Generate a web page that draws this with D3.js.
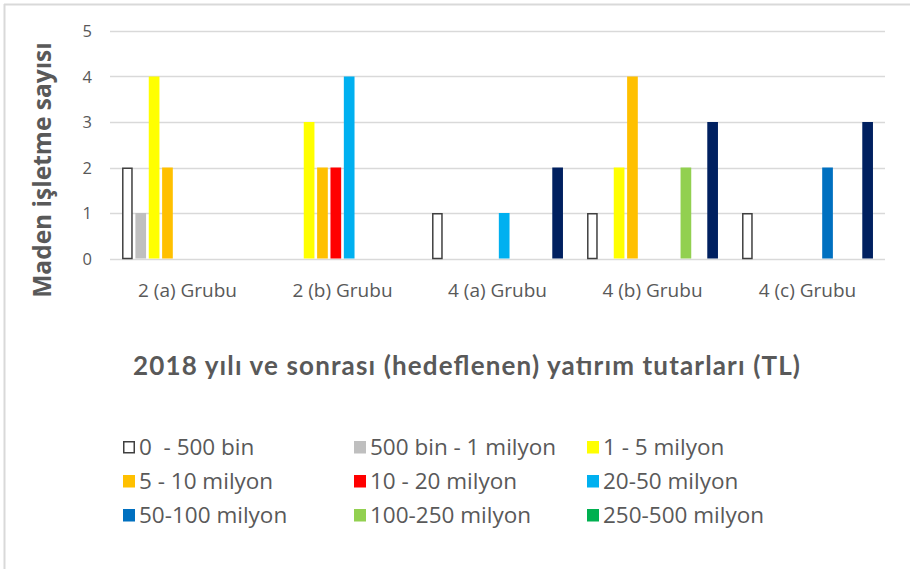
<!DOCTYPE html>
<html>
<head>
<meta charset="utf-8">
<script src="https://cdn.jsdelivr.net/npm/d3@7"></script>
<style>
  html, body { margin: 0; padding: 0; background: #fff; }
  svg { display: block; }
  .legtext { white-space: pre; }
</style>
</head>
<body>
<script>
// ---- DATA ----
const categories = ["2 (a) Grubu", "2 (b) Grubu", "4 (a) Grubu", "4 (b) Grubu", "4 (c) Grubu"];
const seriesNames = ["0  - 500 bin", "500 bin - 1 milyon", "1 - 5 milyon", "5 - 10 milyon", "10 - 20 milyon",
                     "20-50 milyon", "50-100 milyon", "100-250 milyon", "250-500 milyon", "500 milyon üzeri"];
const seriesColors = ["#ffffff", "#bfbfbf", "#ffff00", "#ffc000", "#ff0000",
                      "#00b0f0", "#0070c0", "#92d050", "#00b050", "#002060"];
// values per series, one per category
const s0_500bin   = [2, 0, 1, 1, 1];
const s500bin_1m  = [1, 0, 0, 0, 0];
const s1_5m       = [4, 3, 0, 2, 0];
const s5_10m      = [2, 2, 0, 4, 0];
const s10_20m     = [0, 2, 0, 0, 0];
const s20_50m     = [0, 4, 1, 0, 0];
const s50_100m    = [0, 0, 0, 0, 2];
const s100_250m   = [0, 0, 0, 2, 0];
const s250_500m   = [0, 0, 0, 0, 0];
const s500m_plus  = [0, 0, 2, 3, 3];
const seriesValues = [s0_500bin, s500bin_1m, s1_5m, s5_10m, s10_20m, s20_50m, s50_100m, s100_250m, s250_500m, s500m_plus];
const yTicks = [0, 1, 2, 3, 4, 5];
const legendCount = 9; // last series is not shown in the legend
const yTitle = "Maden işletme sayısı";
const xTitle = "2018 yılı ve sonrası (hedeflenen) yatırım tutarları (TL)";

// ---- CHART ----
const W = 910, H = 569;
const svg = d3.select("body").append("svg").attr("width", W).attr("height", H);

// frame (top and left border)
svg.append("line").attr("x1", 4).attr("x2", W).attr("y1", 4.5).attr("y2", 4.5)
  .attr("stroke", "#d9d9d9").attr("stroke-width", 2);
svg.append("line").attr("x1", 4.5).attr("x2", 4.5).attr("y1", 4).attr("y2", H)
  .attr("stroke", "#d9d9d9").attr("stroke-width", 2);

const plot = { left: 110, right: 885, top: 31, bottom: 258.5 };

const x0 = d3.scaleBand().domain(categories).range([plot.left, plot.right]).paddingInner(0).paddingOuter(0);
const x1 = d3.scaleBand().domain(d3.range(seriesNames.length))
  .range([10.7, x0.bandwidth() - 10.7]).paddingInner(0.2).paddingOuter(0.1);
const y = d3.scaleLinear().domain([0, 5]).range([plot.bottom, plot.top]);

// gridlines
svg.append("g").selectAll("line").data(yTicks).join("line")
  .attr("x1", plot.left).attr("x2", plot.right)
  .attr("y1", d => Math.round(y(d)) + 0.5).attr("y2", d => Math.round(y(d)) + 0.5)
  .attr("stroke", "#d9d9d9").attr("stroke-width", 1.3);

// y axis labels
const yAxis = d3.axisLeft(y).tickValues(yTicks).tickSize(0).tickPadding(0).tickFormat(d3.format("d"));
const gy = svg.append("g").attr("transform", `translate(${plot.left - 18},0)`).call(yAxis);
gy.select(".domain").remove();
gy.selectAll("text").attr("font-family", "'Open Sans', sans-serif").attr("font-size", 16.5)
  .attr("fill", "#595959").attr("dy", "0.35em");

// bars
const groups = svg.append("g").selectAll("g").data(categories).join("g")
  .attr("transform", d => `translate(${x0(d)},0)`);
groups.selectAll("rect")
  .data((c, ci) => seriesValues.map((vals, si) => ({ si, v: vals[ci] })).filter(d => d.v > 0))
  .join("rect")
  .attr("x", d => x1(d.si) + (d.si === 0 ? 0.75 : 0))
  .attr("y", d => y(d.v) + (d.si === 0 ? 0.75 : 0))
  .attr("width", d => x1.bandwidth() - (d.si === 0 ? 1.5 : 0))
  .attr("height", d => plot.bottom - y(d.v) - (d.si === 0 ? 0.75 : 0))
  .attr("fill", d => seriesColors[d.si])
  .attr("stroke", d => d.si === 0 ? "#404040" : "none")
  .attr("stroke-width", 1.5);

// x axis category labels
const xAxis = d3.axisBottom(x0).tickSize(0).tickPadding(0);
const gx = svg.append("g").attr("transform", `translate(0,${plot.bottom})`).call(xAxis);
gx.select(".domain").remove();
gx.selectAll("text").attr("font-family", "'Open Sans', sans-serif").attr("font-size", 19)
  .attr("fill", "#595959").attr("dy", null).attr("y", 38.5);

// axis titles
svg.append("text").attr("transform", "translate(51,170) rotate(-90)")
  .attr("text-anchor", "middle").attr("font-family", "'Open Sans', sans-serif")
  .attr("font-weight", "bold").attr("font-size", 24.5).attr("fill", "#595959").text(yTitle);

svg.append("text").attr("x", 133).attr("y", 375)
  .attr("font-family", "Lato, 'Open Sans', sans-serif")
  .attr("textLength", 667).attr("lengthAdjust", "spacing")
  .attr("font-weight", "bold").attr("font-size", 26).attr("fill", "#595959").text(xTitle);

// legend
const legCols = [123, 354, 587];
const legRows = [447, 481, 515];
const leg = svg.append("g").selectAll("g").data(d3.range(legendCount)).join("g")
  .attr("transform", i => `translate(${legCols[i % 3]},${legRows[Math.floor(i / 3)]})`);
leg.append("rect")
  .attr("x", d => d === 0 ? 0.75 : 0).attr("y", d => -6 + (d === 0 ? 0.75 : 0))
  .attr("width", d => d === 0 ? 10.5 : 12).attr("height", d => d === 0 ? 11 : 12.5)
  .attr("fill", d => seriesColors[d])
  .attr("stroke", d => d === 0 ? "#404040" : "none").attr("stroke-width", 1.5);
leg.append("text").attr("class", "legtext").attr("x", 16).attr("y", 0).attr("dy", "0.35em")
  .attr("font-family", "'Open Sans', sans-serif").attr("font-size", 22.5)
  .attr("fill", "#595959").text(d => seriesNames[d]);
</script>
</body>
</html>
